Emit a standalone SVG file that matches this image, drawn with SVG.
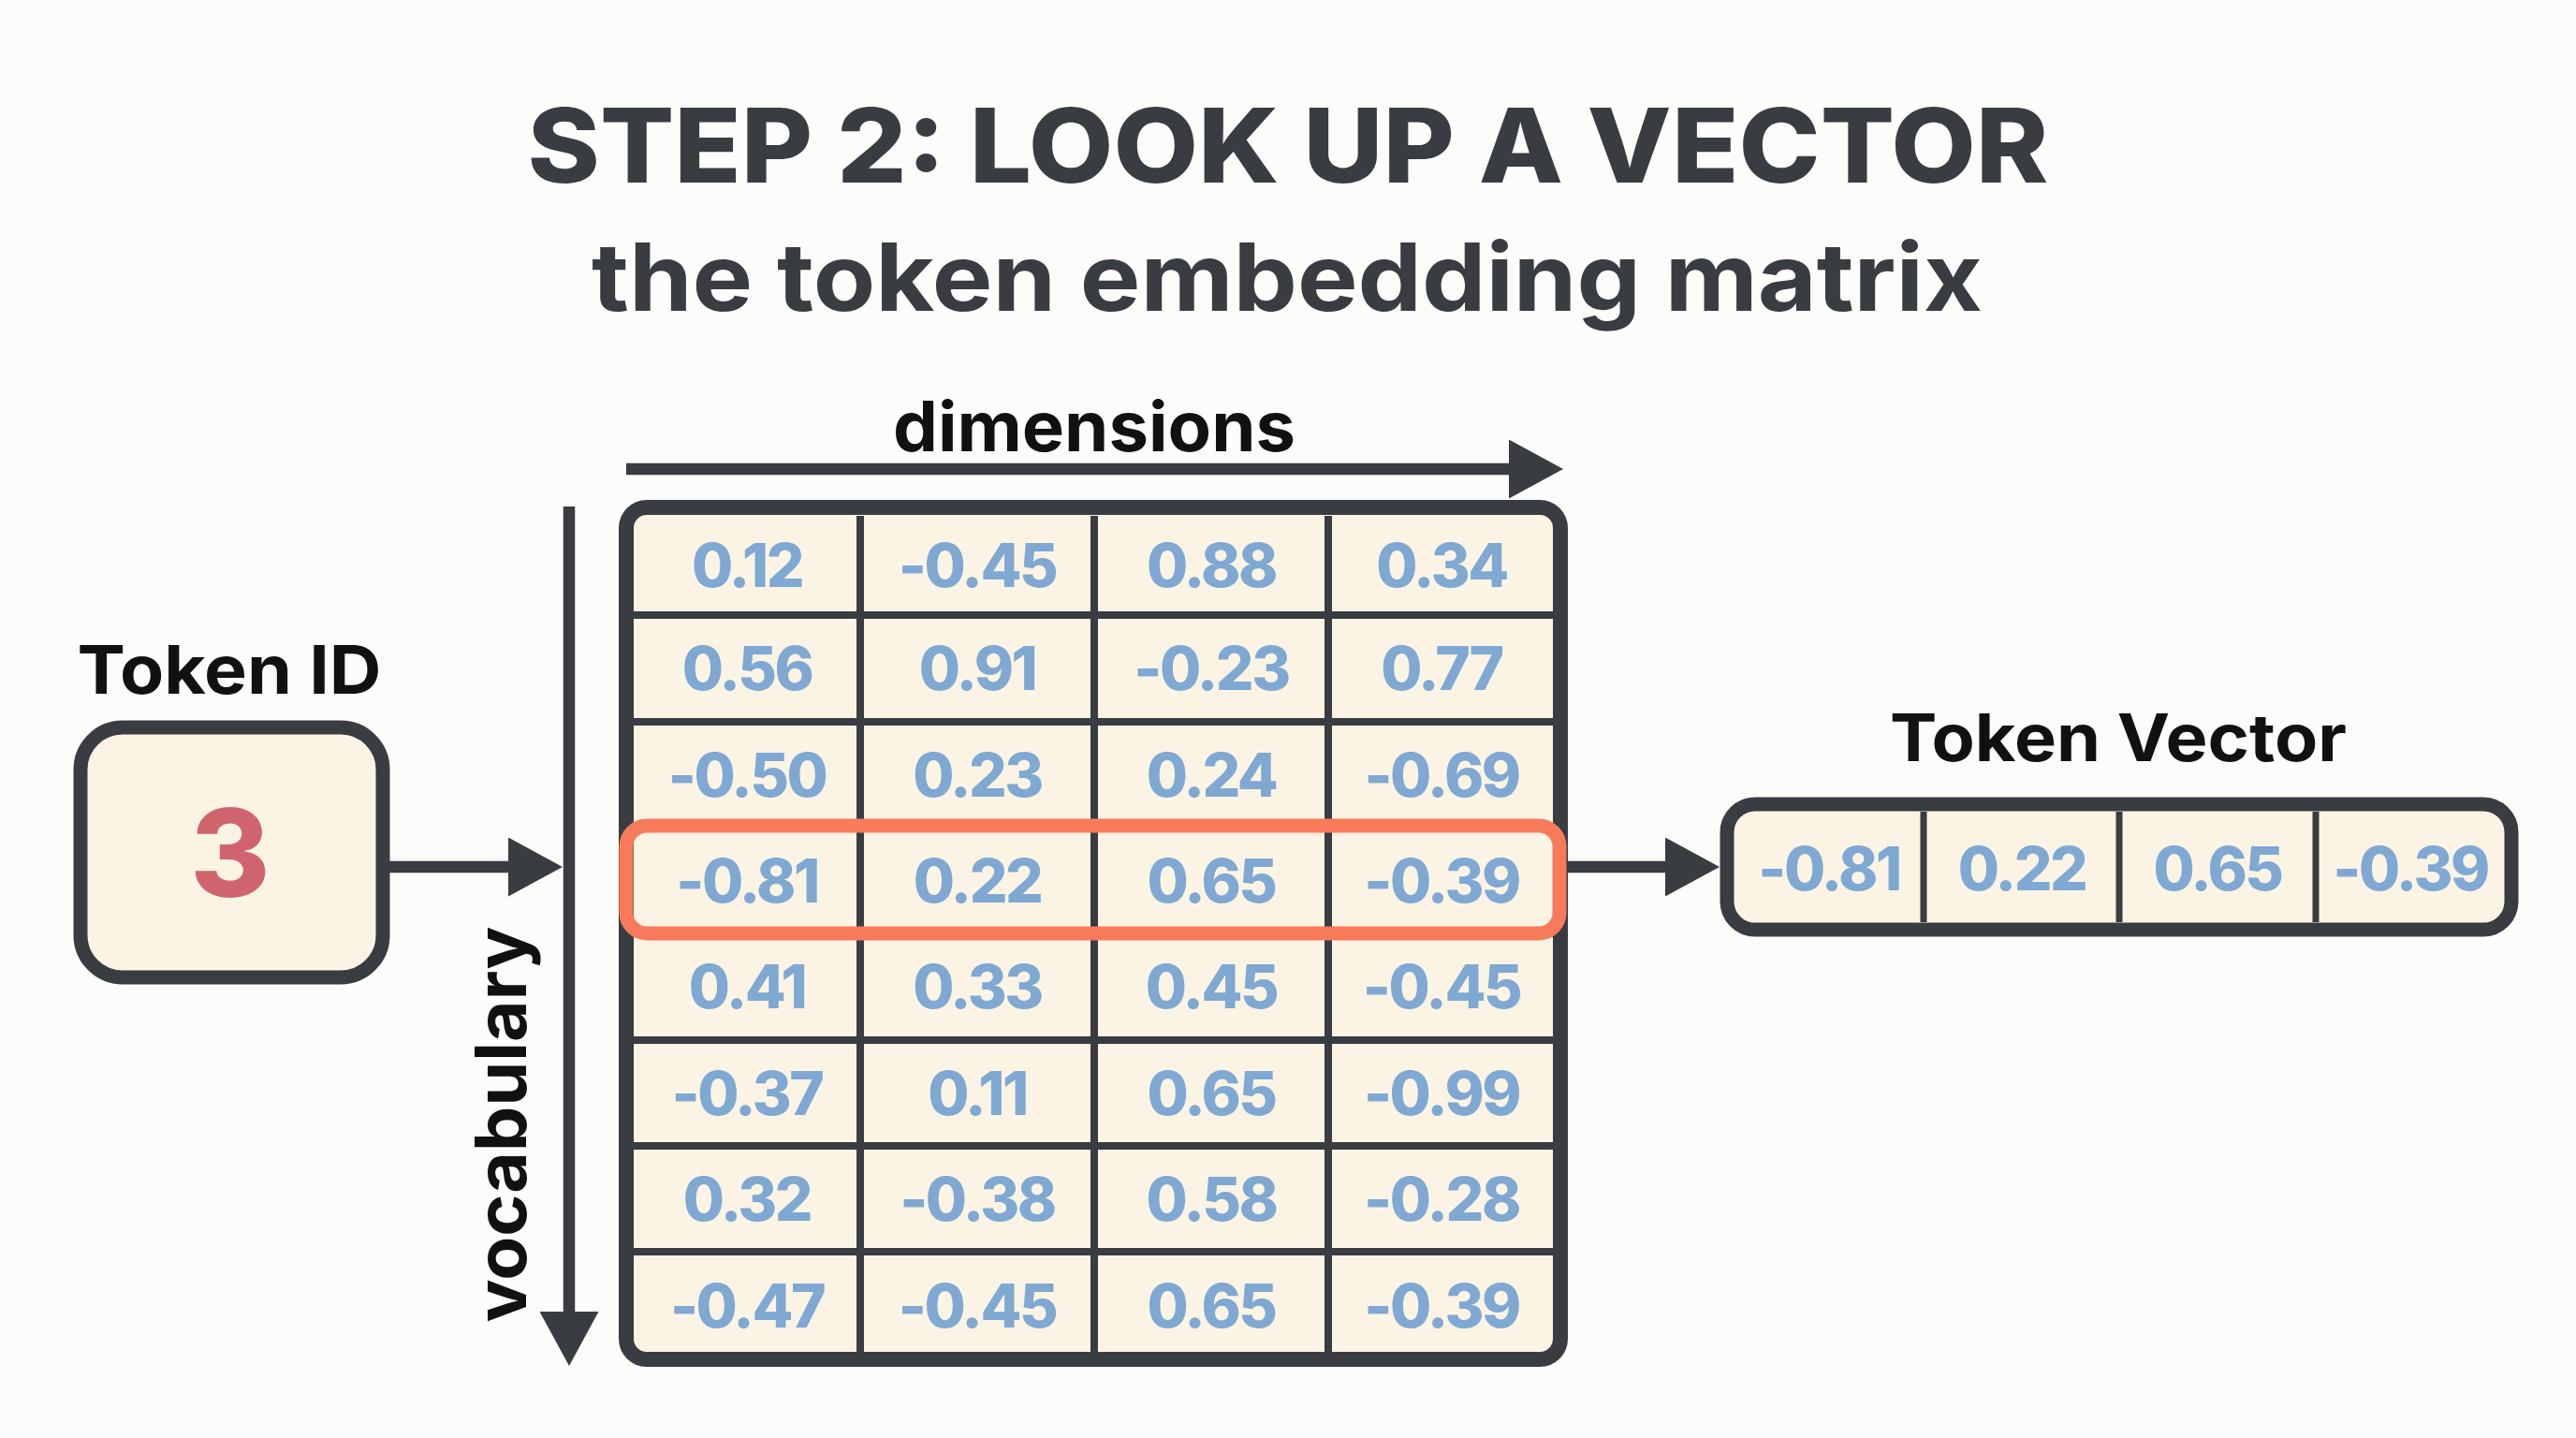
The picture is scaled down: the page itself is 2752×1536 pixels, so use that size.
<svg xmlns="http://www.w3.org/2000/svg" width="2752" height="1536" viewBox="0 0 2752 1536">
<defs>
<style>
.title{font-family:Inter,"Liberation Sans",sans-serif;font-weight:800;fill:#393C41;text-anchor:middle}
.sub{font-family:Inter,"Liberation Sans",sans-serif;font-weight:700;fill:#393C41;text-anchor:middle}
.lbl{font-family:Inter,"Liberation Sans",sans-serif;font-weight:700;fill:#111111;text-anchor:middle}
.num{font-family:Inter,"Liberation Sans",sans-serif;font-weight:800;fill:#7FA8D2;text-anchor:middle;font-size:64px;letter-spacing:-2.5px}
.box{fill:#FBF4E4;stroke:#393C41}
.grid{stroke:#393C41;stroke-width:8;fill:none}
.conn{stroke:#393C41;stroke-width:12.5;fill:none}
</style>
<marker id="head" viewBox="0 0 58 63" refX="0" refY="31.5" markerWidth="58" markerHeight="63" markerUnits="userSpaceOnUse" orient="auto">
<path d="M0,0 L58,31.5 L0,63 Z" fill="#393C41"/>
</marker>
</defs>
<rect width="2752" height="1536" fill="#FCFCFB"/>

<g id="title">
<text class="title" x="1376" y="195" font-size="110" textLength="1625" lengthAdjust="spacingAndGlyphs">STEP 2: LOOK UP A VECTOR</text>
<text class="sub" x="1375" y="332" font-size="100" textLength="1486" lengthAdjust="spacingAndGlyphs">the token embedding matrix</text>
</g>

<g id="connectors">
<line class="conn" x1="669" y1="501" x2="1612" y2="501" marker-end="url(#head)"/>
<line class="conn" x1="608" y1="541" x2="608" y2="1401" marker-end="url(#head)"/>
<line class="conn" x1="416" y1="926" x2="543" y2="926" marker-end="url(#head)"/>
<line class="conn" x1="1675" y1="926" x2="1779" y2="926" marker-end="url(#head)"/>
</g>

<g id="axis-labels">
<text class="lbl" x="1169" y="482" font-size="74" textLength="430" lengthAdjust="spacingAndGlyphs">dimensions</text>
<text class="lbl" transform="translate(562,1201) rotate(-90)" x="0" y="0" font-size="75" textLength="423" lengthAdjust="spacingAndGlyphs">vocabulary</text>
</g>

<g id="token-id">
<text class="lbl" x="245" y="741" font-size="72" textLength="325" lengthAdjust="spacingAndGlyphs">Token ID</text>
<rect class="box" x="86" y="777" width="323" height="267" rx="45" stroke-width="15"/>
<text x="246" y="958" font-family="Inter,'Liberation Sans',sans-serif" font-weight="800" font-size="130" fill="#D0646E" text-anchor="middle">3</text>
</g>

<g id="matrix">
<rect class="box" x="669" y="542" width="998" height="910" rx="22" stroke-width="16"/>
<path class="grid" d="M919,551V1444M1169,551V1444M1419,551V1444M677,657H1660M677,771H1660M677,884H1660M677,997H1660M677,1111H1660M677,1224H1660M677,1337H1660"/>
<g>
<text class="num" x="798" y="627">0.12</text><text class="num" x="1044" y="627">-0.45</text><text class="num" x="1294" y="627">0.88</text><text class="num" x="1540" y="627">0.34</text>
<text class="num" x="798" y="737">0.56</text><text class="num" x="1044" y="737">0.91</text><text class="num" x="1294" y="737">-0.23</text><text class="num" x="1540" y="737">0.77</text>
<text class="num" x="798" y="851">-0.50</text><text class="num" x="1044" y="851">0.23</text><text class="num" x="1294" y="851">0.24</text><text class="num" x="1540" y="851">-0.69</text>
<text class="num" x="798" y="964">-0.81</text><text class="num" x="1044" y="964">0.22</text><text class="num" x="1294" y="964">0.65</text><text class="num" x="1540" y="964">-0.39</text>
<text class="num" x="798" y="1077">0.41</text><text class="num" x="1044" y="1077">0.33</text><text class="num" x="1294" y="1077">0.45</text><text class="num" x="1540" y="1077">-0.45</text>
<text class="num" x="798" y="1191">-0.37</text><text class="num" x="1044" y="1191">0.11</text><text class="num" x="1294" y="1191">0.65</text><text class="num" x="1540" y="1191">-0.99</text>
<text class="num" x="798" y="1304">0.32</text><text class="num" x="1044" y="1304">-0.38</text><text class="num" x="1294" y="1304">0.58</text><text class="num" x="1540" y="1304">-0.28</text>
<text class="num" x="798" y="1418">-0.47</text><text class="num" x="1044" y="1418">-0.45</text><text class="num" x="1294" y="1418">0.65</text><text class="num" x="1540" y="1418">-0.39</text>
</g>
<rect id="highlight" x="669" y="882" width="997" height="115" rx="22" fill="none" stroke="#F77B5A" stroke-width="15"/>
</g>

<g id="token-vector">
<text class="lbl" x="2263" y="813" font-size="70" textLength="488" lengthAdjust="spacingAndGlyphs">Token Vector</text>
<rect class="box" x="1845" y="859" width="838" height="134" rx="30" stroke-width="15"/>
<path d="M2055,867V985M2264,867V985M2474,867V985" stroke="#393C41" stroke-width="7" fill="none"/>
<text class="num" x="1954" y="951">-0.81</text><text class="num" x="2160" y="951">0.22</text><text class="num" x="2369" y="951">0.65</text><text class="num" x="2575" y="951">-0.39</text>
</g>
</svg>
